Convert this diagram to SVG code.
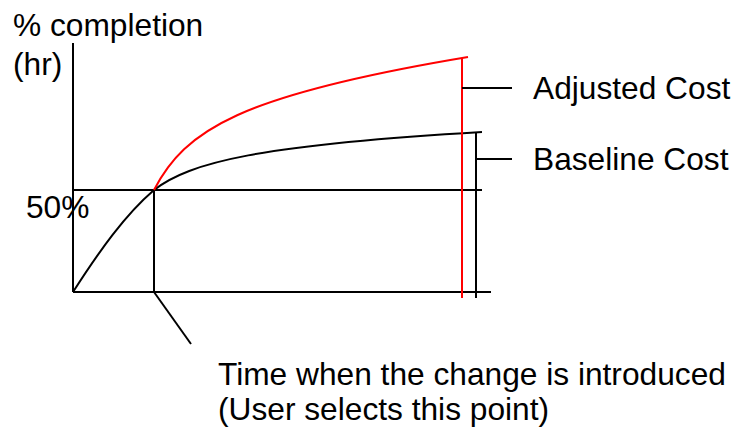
<svg xmlns="http://www.w3.org/2000/svg" width="733" height="428" viewBox="0 0 733 428">
  <style>
    .ln { stroke: #000; stroke-width: 2; fill: none; }
    .red { stroke: #ff0000; stroke-width: 2; fill: none; }
    text { font-family: "Liberation Sans", Arial, sans-serif; font-size: 31.7px; fill: #000; }
  </style>
  <rect width="733" height="428" fill="#fff"/>

  <!-- axes and guide lines -->
  <g id="axes">
    <line class="ln" x1="73" y1="43" x2="73" y2="292"/>
    <line class="ln" x1="73" y1="292" x2="491" y2="292"/>
    <line class="ln" x1="73" y1="190" x2="482" y2="190"/>
    <line class="ln" x1="154" y1="190" x2="154" y2="292"/>
  </g>

  <!-- cost curves -->
  <g id="baseline-curve">
    <path class="ln" d="M73,292 C100,250 125,215 154,190 C190,162 260,145 482,132"/>
    <line class="ln" x1="476" y1="132" x2="476" y2="298"/>
  </g>
  <g id="adjusted-curve">
    <path class="red" d="M154,190 C185,130 240,95 468,57"/>
    <line class="red" x1="462" y1="58" x2="462" y2="298"/>
  </g>

  <!-- label leaders -->
  <g id="connectors">
    <line class="ln" x1="154" y1="292" x2="191" y2="344"/>
    <line class="ln" x1="462" y1="88" x2="512" y2="88"/>
    <line class="ln" x1="476" y1="159" x2="512" y2="159"/>
  </g>

  <g id="y-label">
    <text x="13" y="36">% completion</text>
    <text x="13" y="75">(hr)</text>
  </g>
  <g id="mark-50">
    <text x="26" y="218">50%</text>
  </g>
  <g id="label-adjusted">
    <text x="533" y="99">Adjusted Cost</text>
  </g>
  <g id="label-baseline">
    <text x="533" y="170">Baseline Cost</text>
  </g>
  <g id="label-time">
    <text x="218" y="385">Time when the change is introduced</text>
    <text x="218" y="420">(User selects this point)</text>
  </g>
</svg>
